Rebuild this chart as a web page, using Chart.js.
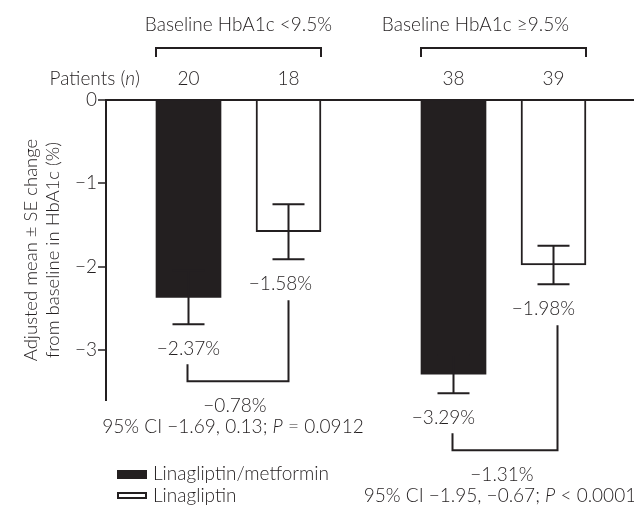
<!DOCTYPE html>
<html>
<head>
<meta charset="utf-8">
<script src="https://cdn.jsdelivr.net/npm/chart.js@4.4.1/dist/chart.umd.min.js"></script>
<style>
  html, body { margin: 0; padding: 0; background: #fff; }
  #wrap { width: 634px; height: 509px; }
</style>
</head>
<body>
<div id="wrap"><canvas id="chart" width="634" height="509"></canvas></div>
<script>
(() => {
  "use strict";

  // ====== Data ======
  const groupTitles = ["Baseline HbA1c <9.5%", "Baseline HbA1c ≥9.5%"];
  const seriesNames = ["Linagliptin/metformin", "Linagliptin"];
  const barPos = [1, 2, 3.65, 4.65];          // x position of each bar (category units)
  const barSeries = [0, 1, 0, 1];             // which series each bar belongs to
  const patientsN = [20, 18, 38, 39];
  const meanChange = [-2.37, -1.58, -3.29, -1.98];
  const seChange = [0.32, 0.33, 0.23, 0.23];
  const yTicks = [0, -1, -2, -3];
  const diffLabels = ["−0.78%", "−1.31%"];
  const ciLabels = [
    ["95% CI −1.69, 0.13; ", "P", " = 0.0912"],
    ["95% CI −1.95, −0.67; ", "P", " < 0.0001"]
  ];

  // ====== Style ======
  const INK = "#231f20";
  const FAMILY = 'Lato, "Open Sans", sans-serif';
  const FS = 19;
  const WEIGHT = 300;
  const font = (italic) => `${italic ? "italic " : ""}${WEIGHT} ${FS}px ${FAMILY}`;

  const minus = (v) => (v < 0 ? "−" : "") + Math.abs(v);
  const pct = (v) => "−" + Math.abs(v).toFixed(2) + "%";

  // build datasets from the arrays
  const datasets = seriesNames.map((name, s) => ({
    label: name,
    data: barPos
      .map((x, i) => ({ x, y: meanChange[i], s: barSeries[i] }))
      .filter((p) => p.s === s),
    backgroundColor: s === 0 ? INK : "#ffffff",
    borderColor: INK,
    borderWidth: s === 0 ? 0 : 2,
    borderSkipped: "start",
    grouped: false,
    barThickness: 65
  }));

  // find the bar element for overall bar index i
  function barAt(chart, i) {
    const s = barSeries[i];
    let k = 0;
    for (let j = 0; j < i; j++) if (barSeries[j] === s) k++;
    return chart.getDatasetMeta(s).data[k];
  }

  // draw a run of [text, italic?] pieces, centred or right aligned at x
  function drawRun(ctx, parts, x, y, align) {
    let total = 0;
    const widths = parts.map(([t, it]) => {
      ctx.font = font(it);
      const w = ctx.measureText(t).width;
      total += w;
      return w;
    });
    let cx = align === "right" ? x - total : align === "left" ? x : x - total / 2;
    ctx.textAlign = "left";
    parts.forEach(([t, it], i) => {
      ctx.font = font(it);
      ctx.fillText(t, cx, y);
      cx += widths[i];
    });
  }

  const labelShift = [0, -8, -10, -10];
  const titleShift = [0, -28];
  const bracketRightShift = [0, 4];

  const annotations = {
    id: "annotations",
    afterDraw(chart) {
      const { ctx, scales: { y } } = chart;
      ctx.save();
      ctx.strokeStyle = INK;
      ctx.fillStyle = INK;
      ctx.lineWidth = 2;
      ctx.textBaseline = "middle";

      // group brackets + titles on top
      groupTitles.forEach((title, g) => {
        const a = barAt(chart, 2 * g);
        const b = barAt(chart, 2 * g + 1);
        const l = a.x - a.width / 2;
        const r = b.x + b.width / 2;
        ctx.beginPath();
        ctx.moveTo(l, 57);
        ctx.lineTo(l, 48);
        ctx.lineTo(r, 48);
        ctx.lineTo(r, 57);
        ctx.stroke();
        drawRun(ctx, [[title, false]], (l + r) / 2 + titleShift[g], 25, "center");
      });

      // patients row
      drawRun(ctx, [["Patients (", false], ["n", true], [")", false]], 140, 79, "right");
      patientsN.forEach((n, i) => {
        drawRun(ctx, [[String(n), false]], barAt(chart, i).x, 79, "center");
      });

      // error bars and value labels
      const labelY = [];
      meanChange.forEach((m, i) => {
        const bar = barAt(chart, i);
        const top = y.getPixelForValue(m + seChange[i]);
        const bot = y.getPixelForValue(m - seChange[i]);
        ctx.beginPath();
        ctx.moveTo(bar.x, top);
        ctx.lineTo(bar.x, bot);
        ctx.moveTo(bar.x - 16, top);
        ctx.lineTo(bar.x + 16, top);
        ctx.moveTo(bar.x - 16, bot);
        ctx.lineTo(bar.x + 16, bot);
        ctx.stroke();
        labelY[i] = bot + 25;
        drawRun(ctx, [[pct(m), false]], bar.x + labelShift[i], labelY[i], "center");
      });

      // comparison brackets
      diffLabels.forEach((d, g) => {
        const lx = barAt(chart, 2 * g).x - 1;
        const rx = barAt(chart, 2 * g + 1).x + bracketRightShift[g];
        const lt = labelY[2 * g] + 15;
        const rt = labelY[2 * g + 1] + 16;
        const hy = Math.max(lt, rt) + 17;
        ctx.beginPath();
        ctx.moveTo(lx, lt);
        ctx.lineTo(lx, hy);
        ctx.lineTo(rx, hy);
        ctx.lineTo(rx, rt);
        ctx.stroke();
        const cx = (lx + rx) / 2 - 3;
        drawRun(ctx, [[d, false]], cx, hy + 25, "center");
        drawRun(ctx, ciLabels[g].map((t, k) => [t, k === 1]), cx - 2, hy + 46, "center");
      });

      // legend
      ctx.fillRect(117, 470, 30, 9);
      ctx.strokeRect(118, 493, 28, 5);
      drawRun(ctx, [[seriesNames[0], false]], 153, 474, "left");
      drawRun(ctx, [[seriesNames[1], false]], 153, 496, "left");

      ctx.restore();
    }
  };

  new Chart(document.getElementById("chart").getContext("2d"), {
    type: "bar",
    data: { datasets },
    options: {
      responsive: false,
      animation: false,
      devicePixelRatio: 1,
      layout: { padding: { top: 100, bottom: 109, left: 0, right: 0 } },
      plugins: { legend: { display: false }, tooltip: { enabled: false } },
      scales: {
        x: { type: "linear", min: 0.175, max: 5.455, offset: false, display: false },
        y: {
          min: -3.6,
          max: 0,
          afterBuildTicks: (s) => { s.ticks = yTicks.map((v) => ({ value: v })); },
          afterFit: (s) => { s.width = 106; },
          border: { display: true, color: INK, width: 2 },
          grid: {
            color: (c) => (c.tick && c.tick.value === 0 ? INK : "rgba(0,0,0,0)"),
            lineWidth: 2,
            tickColor: INK,
            tickLength: 8,
            tickWidth: 1.5
          },
          ticks: {
            color: INK,
            font: { family: FAMILY, size: FS, weight: WEIGHT },
            padding: 1,
            callback: (v) => minus(v)
          },
          title: {
            display: true,
            text: ["Adjusted mean ± SE change", "from baseline in HbA1c (%)"],
            color: INK,
            font: { family: FAMILY, size: 18.5, weight: WEIGHT, lineHeight: 1.2 },
            padding: { top: 20, bottom: 0 }
          }
        }
      }
    },
    plugins: [annotations]
  });
})();
</script>
</body>
</html>
